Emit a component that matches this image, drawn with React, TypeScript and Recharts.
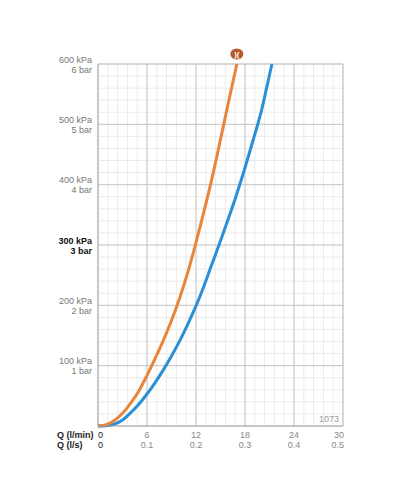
import React from "react";
import { CartesianGrid, Line, LineChart, ReferenceLine, XAxis, YAxis } from "recharts";

// flow (l/min) and pressure (kPa)
const orangeFlow = [0, 1, 2, 3, 4, 5, 6, 7, 8, 9, 10, 11, 12, 13, 14, 15, 16, 17];
const orangePressure = [0, 2, 9, 21, 38, 58, 84, 112, 142, 175, 212, 255, 304, 357, 413, 475, 538, 600];

const blueFlow = [0, 1, 2, 3, 4, 5, 6, 7, 8, 9, 10, 11, 12, 13, 14, 15, 16, 17, 18, 19, 20, 21, 21.3];
const bluePressure = [0, 0.5, 3, 10, 22, 36, 53, 72, 93, 116, 141, 169, 199, 233, 270, 307, 345, 385, 428, 474, 522, 582, 600];

const xMajor = [0, 6, 12, 18, 24, 30];
const xLpsLabels = ["0", "0.1", "0.2", "0.3", "0.4", "0.5"];
const yMajor = [0, 100, 200, 300, 400, 500, 600];
const kpaLabels = ["", "100 kPa", "200 kPa", "300 kPa", "400 kPa", "500 kPa", "600 kPa"];
const barLabels = ["", "1 bar", "2 bar", "3 bar", "4 bar", "5 bar", "6 bar"];

const xMinor = Array.from({ length: 26 }, (_, i) => +(i * 1.2).toFixed(1));
const yMinor = Array.from({ length: 31 }, (_, i) => i * 20);

const orangeData = orangeFlow.map((q, i) => ({ q, p: orangePressure[i] }));
const blueData = blueFlow.map((q, i) => ({ q, p: bluePressure[i] }));

const font = "'Liberation Sans', Arial, Helvetica, sans-serif";

const XTick = ({ x, y, payload }: any) => {
  const idx = xMajor.findIndex((v) => Math.abs(v - payload.value) < 1e-6);
  if (idx < 0) return <g />;
  const anchor = idx === 0 ? "start" : idx === xMajor.length - 1 ? "end" : "middle";
  const dx = idx === xMajor.length - 1 ? 1 : 0;
  const color = idx === 0 ? "#222" : "#888";
  return (
    <g fontFamily={font} fontSize={9}>
      {idx === 0 && (
        <>
          <text x={x - 41} y={y + 11.5} fill="#222" fontWeight="bold" textAnchor="start">
            Q (l/min)
          </text>
          <text x={x - 41} y={y + 21.5} fill="#222" fontWeight="bold" textAnchor="start">
            Q (l/s)
          </text>
        </>
      )}
      <text x={x + dx} y={y + 11.5} fill={color} textAnchor={anchor}>
        {xMajor[idx]}
      </text>
      <text x={x + dx} y={y + 21.5} fill={color} textAnchor={anchor}>
        {xLpsLabels[idx]}
      </text>
    </g>
  );
};

const YTick = ({ x, y, payload }: any) => {
  const idx = yMajor.indexOf(payload.value);
  if (idx <= 0) return <g />;
  const strong = yMajor[idx] === 300;
  return (
    <g fontFamily={font} fontSize={9} fill={strong ? "#111" : "#777"} fontWeight={strong ? "bold" : "normal"}>
      <text x={x - 6} y={y - 1.5} textAnchor="end">
        {kpaLabels[idx]}
      </text>
      <text x={x - 6} y={y + 8.5} textAnchor="end">
        {barLabels[idx]}
      </text>
    </g>
  );
};

const EndMarker = (props: any) => {
  const { cx, cy, index } = props;
  if (index !== orangeData.length - 1) return <g key={`d${index}`} />;
  return (
    <g key={`d${index}`}>
      <ellipse cx={cx} cy={cy - 10} rx={6.5} ry={5.5} fill="#b65a2c" />
      <text x={cx} y={cy - 7} textAnchor="middle" fontSize={8} fontWeight="bold" fill="#fff" fontFamily={font}>
        )(
      </text>
    </g>
  );
};

export default function App() {
  return (
    <div style={{ position: "absolute", left: 0, top: 0 }}>
      <LineChart width={400} height={500} margin={{ top: 64, right: 57, bottom: 34, left: 0 }}>
        <CartesianGrid stroke="#ebebeb" strokeWidth={1} />
        <XAxis
          type="number"
          dataKey="q"
          domain={[0, 30]}
          ticks={xMinor}
          interval={0}
          height={40}
          tickSize={0}
          tickMargin={0}
          tickLine={false}
          axisLine={{ stroke: "#999" }}
          tick={<XTick />}
        />
        <YAxis
          type="number"
          dataKey="p"
          domain={[0, 600]}
          ticks={yMinor}
          interval={0}
          width={98}
          tickSize={0}
          tickMargin={0}
          tickLine={false}
          axisLine={{ stroke: "#999" }}
          tick={<YTick />}
        />
        {xMajor.slice(1, -1).map((v) => (
          <ReferenceLine key={`x${v}`} x={v} stroke="#c8c8c8" />
        ))}
        {yMajor.slice(1, -1).map((v) => (
          <ReferenceLine key={`y${v}`} y={v} stroke="#c8c8c8" />
        ))}
        <ReferenceLine x={30} stroke="#bbb" />
        <ReferenceLine y={600} stroke="#bbb" />
        <ReferenceLine
          y={0}
          stroke="none"
          label={{ value: "1073", position: "insideBottomRight", offset: 4, fill: "#999", fontSize: 9, fontFamily: font }}
        />
        <Line
          data={blueData}
          dataKey="p"
          type="monotone"
          stroke="#2b8fd6"
          strokeWidth={3}
          dot={false}
          isAnimationActive={false}
        />
        <Line
          data={orangeData}
          dataKey="p"
          type="monotone"
          stroke="#e8853d"
          strokeWidth={3}
          dot={EndMarker}
          activeDot={false}
          isAnimationActive={false}
        />
      </LineChart>
    </div>
  );
}
